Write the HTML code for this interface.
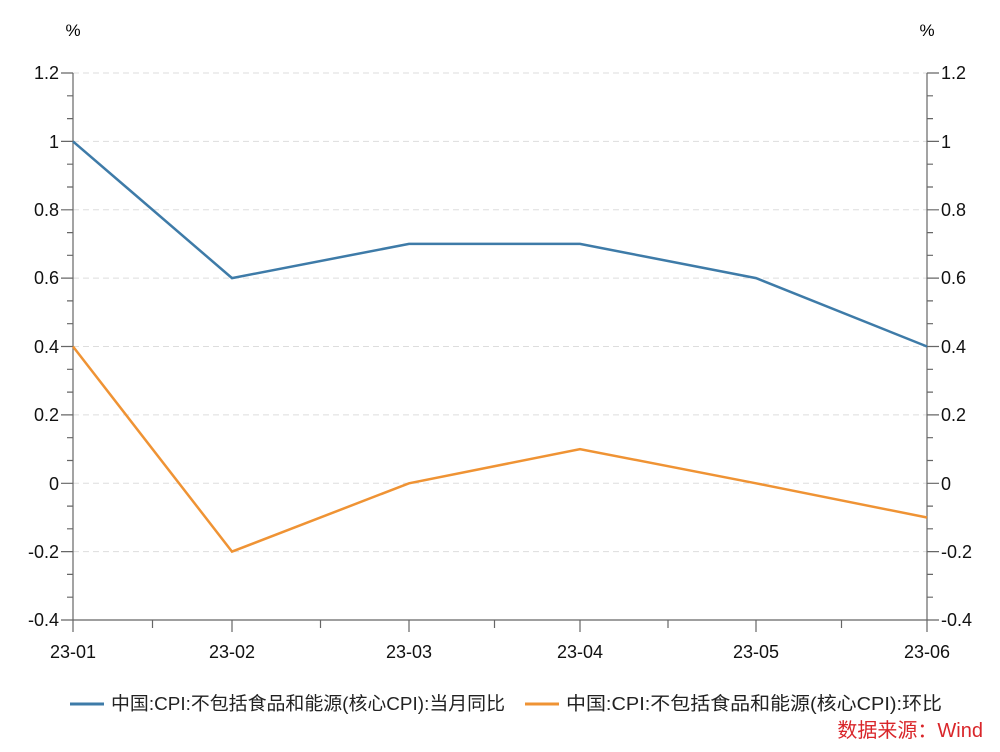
<!DOCTYPE html>
<html><head><meta charset="utf-8"><style>
html,body{margin:0;padding:0;background:#fff;}
text{font-family:"Liberation Sans","Noto Sans CJK SC",sans-serif;}
</style></head><body>
<svg width="1000" height="747" viewBox="0 0 1000 747" xmlns="http://www.w3.org/2000/svg">
<g stroke="#ddd" stroke-dasharray="6,4" stroke-width="1">
<line x1="73" x2="927" y1="73" y2="73"/><line x1="73" x2="927" y1="141.4" y2="141.4"/>
<line x1="73" x2="927" y1="209.8" y2="209.8"/><line x1="73" x2="927" y1="278.1" y2="278.1"/>
<line x1="73" x2="927" y1="346.5" y2="346.5"/><line x1="73" x2="927" y1="414.9" y2="414.9"/>
<line x1="73" x2="927" y1="483.3" y2="483.3"/><line x1="73" x2="927" y1="551.6" y2="551.6"/>
</g>
<g stroke="#666" stroke-width="1.2" fill="none">
<line x1="73" y1="73" x2="73" y2="620"/><line x1="927" y1="73" x2="927" y2="620"/>
<line x1="73" y1="620" x2="927" y2="620"/>
<path d="M73,73h-12M73,141.4h-12M73,209.8h-12M73,278.1h-12M73,346.5h-12M73,414.9h-12M73,483.3h-12M73,551.6h-12M73,620h-12
M927,73h12M927,141.4h12M927,209.8h12M927,278.1h12M927,346.5h12M927,414.9h12M927,483.3h12M927,551.6h12M927,620h12"/>
<path d="M73,95.8h-6M73,118.6h-6M73,164.2h-6M73,187h-6M73,232.6h-6M73,255.3h-6M73,300.9h-6M73,323.7h-6M73,369.3h-6M73,392.1h-6M73,437.7h-6M73,460.5h-6M73,506.1h-6M73,528.8h-6M73,574.4h-6M73,597.2h-6"/>
<path d="M927,95.8h6M927,118.6h6M927,164.2h6M927,187h6M927,232.6h6M927,255.3h6M927,300.9h6M927,323.7h6M927,369.3h6M927,392.1h6M927,437.7h6M927,460.5h6M927,506.1h6M927,528.8h6M927,574.4h6M927,597.2h6"/>
<path d="M73,620v12M232,620v12M409,620v12M580,620v12M756,620v12M927,620v12
M152.5,620v8M320.5,620v8M494.5,620v8M668,620v8M841.5,620v8"/>
</g>
<g font-size="18" fill="#111" text-anchor="end">
<text x="59" y="79">1.2</text><text x="59" y="148">1</text><text x="59" y="216">0.8</text>
<text x="59" y="284">0.6</text><text x="59" y="353">0.4</text><text x="59" y="421">0.2</text>
<text x="59" y="490">0</text><text x="59" y="558">-0.2</text><text x="59" y="626">-0.4</text>
</g>
<g font-size="18" fill="#111" text-anchor="start">
<text x="941" y="79">1.2</text><text x="941" y="148">1</text><text x="941" y="216">0.8</text>
<text x="941" y="284">0.6</text><text x="941" y="353">0.4</text><text x="941" y="421">0.2</text>
<text x="941" y="490">0</text><text x="941" y="558">-0.2</text><text x="941" y="626">-0.4</text>
</g>
<text x="73" y="36" font-size="17" text-anchor="middle">%</text>
<text x="927" y="36" font-size="17" text-anchor="middle">%</text>
<g font-size="18" fill="#111" text-anchor="middle">
<text x="73" y="658">23-01</text><text x="232" y="658">23-02</text><text x="409" y="658">23-03</text>
<text x="580" y="658">23-04</text><text x="756" y="658">23-05</text><text x="927" y="658">23-06</text>
</g>
<polyline fill="none" stroke="#3e7ba8" stroke-width="2.5" points="73,141.4 232,278.1 409,243.9 580,243.9 756,278.1 927,346.5"/>
<polyline fill="none" stroke="#ef9334" stroke-width="2.5" points="73,346.5 232,551.6 409,483.3 580,449.1 756,483.3 927,517.5"/>
<line x1="70" y1="704" x2="104" y2="704" stroke="#3e7ba8" stroke-width="3"/>
<text x="111" y="710" font-size="18.5" fill="#222" textLength="394" lengthAdjust="spacingAndGlyphs">中国:CPI:不包括食品和能源(核心CPI):当月同比</text>
<line x1="525" y1="704" x2="559" y2="704" stroke="#ef9334" stroke-width="3"/>
<text x="566" y="710" font-size="18.5" fill="#222" textLength="376" lengthAdjust="spacingAndGlyphs">中国:CPI:不包括食品和能源(核心CPI):环比</text>
<text x="983" y="737" font-size="20" fill="#d9262a" text-anchor="end">数据来源：Wind</text>
</svg>
</body></html>
